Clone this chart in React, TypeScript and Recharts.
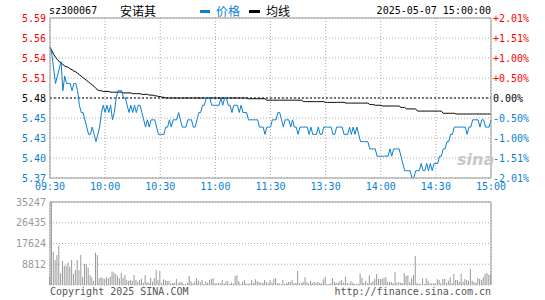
import React from 'react';
import { ComposedChart, Line, BarChart, Bar, XAxis, YAxis, CartesianGrid, ReferenceLine } from 'recharts';

// minute-by-minute price, 09:30 .. 11:30 + 13:01 .. 15:00 (241 points)
const price = [
  5.55, 5.54, 5.52, 5.50, 5.51, 5.52, 5.53, 5.49, 5.51, 5.50,
  5.50, 5.50, 5.49, 5.50, 5.50, 5.49, 5.47, 5.46, 5.46, 5.45,
  5.44, 5.43, 5.43, 5.44, 5.43, 5.42, 5.43, 5.44, 5.46, 5.47,
  5.46, 5.47, 5.46, 5.47, 5.45, 5.46, 5.48, 5.49, 5.49, 5.49,
  5.48, 5.48, 5.47, 5.46, 5.47, 5.46, 5.47, 5.46, 5.47, 5.47,
  5.46, 5.45, 5.44, 5.45, 5.44, 5.45, 5.45, 5.45, 5.44, 5.43,
  5.43, 5.43, 5.43, 5.44, 5.44, 5.45, 5.44, 5.45, 5.45, 5.45,
  5.46, 5.45, 5.44, 5.44, 5.44, 5.45, 5.45, 5.45, 5.44, 5.44,
  5.45, 5.46, 5.46, 5.47, 5.47, 5.48, 5.48, 5.48, 5.47, 5.47,
  5.47, 5.47, 5.47, 5.48, 5.47, 5.48, 5.48, 5.47, 5.47, 5.46,
  5.47, 5.47, 5.47, 5.46, 5.47, 5.46, 5.46, 5.46, 5.45, 5.45,
  5.45, 5.45, 5.45, 5.45, 5.44, 5.44, 5.44, 5.43, 5.44, 5.44,
  5.44, 5.45, 5.45, 5.45, 5.46, 5.46, 5.45, 5.44, 5.45, 5.45,
  5.45, 5.44, 5.45, 5.44, 5.44, 5.43, 5.44, 5.44, 5.44, 5.44,
  5.44, 5.43, 5.44, 5.43, 5.43, 5.43, 5.44, 5.43, 5.43, 5.44,
  5.44, 5.44, 5.44, 5.44, 5.43, 5.43, 5.44, 5.44, 5.44, 5.44,
  5.43, 5.43, 5.43, 5.44, 5.43, 5.44, 5.43, 5.44, 5.43, 5.42,
  5.42, 5.42, 5.42, 5.42, 5.41, 5.41, 5.41, 5.41, 5.40, 5.40,
  5.40, 5.40, 5.40, 5.40, 5.40, 5.41, 5.40, 5.41, 5.41, 5.41,
  5.41, 5.40, 5.39, 5.38, 5.38, 5.38, 5.38, 5.37, 5.37, 5.38,
  5.38, 5.38, 5.39, 5.38, 5.38, 5.39, 5.38, 5.39, 5.38, 5.39,
  5.39, 5.39, 5.40, 5.40, 5.41, 5.41, 5.42, 5.42, 5.43, 5.43,
  5.44, 5.44, 5.44, 5.44, 5.44, 5.44, 5.44, 5.43, 5.44, 5.44,
  5.45, 5.45, 5.45, 5.45, 5.44, 5.45, 5.45, 5.44, 5.44, 5.44, 5.45,
];

const avgPrice = [
  5.550, 5.545, 5.540, 5.536, 5.533, 5.530, 5.528, 5.526, 5.524, 5.523,
  5.522, 5.520, 5.519, 5.517, 5.516, 5.514, 5.512, 5.510, 5.508, 5.506,
  5.504, 5.502, 5.500, 5.498, 5.496, 5.493, 5.491, 5.490, 5.490, 5.489,
  5.489, 5.489, 5.489, 5.488, 5.488, 5.488, 5.488, 5.488, 5.488, 5.488,
  5.487, 5.487, 5.487, 5.487, 5.487, 5.486, 5.486, 5.486, 5.486, 5.486,
  5.485, 5.485, 5.485, 5.485, 5.484, 5.484, 5.484, 5.483, 5.483, 5.482,
  5.482, 5.481, 5.481, 5.480, 5.480, 5.480, 5.480, 5.480, 5.480, 5.480,
  5.480, 5.480, 5.480, 5.480, 5.480, 5.480, 5.480, 5.480, 5.480, 5.480,
  5.480, 5.480, 5.480, 5.480, 5.480, 5.480, 5.480, 5.480, 5.480, 5.480,
  5.480, 5.480, 5.480, 5.480, 5.480, 5.480, 5.480, 5.480, 5.480, 5.480,
  5.480, 5.480, 5.480, 5.480, 5.480, 5.480, 5.480, 5.480, 5.479, 5.479,
  5.479, 5.479, 5.479, 5.479, 5.479, 5.479, 5.479, 5.479, 5.477, 5.477,
  5.477, 5.477, 5.477, 5.477, 5.477, 5.477, 5.477, 5.477, 5.477, 5.477,
  5.477, 5.477, 5.477, 5.477, 5.477, 5.477, 5.477, 5.477, 5.475, 5.475,
  5.475, 5.475, 5.475, 5.475, 5.475, 5.475, 5.475, 5.475, 5.475, 5.475,
  5.474, 5.474, 5.474, 5.474, 5.474, 5.474, 5.474, 5.474, 5.474, 5.474,
  5.474, 5.473, 5.473, 5.473, 5.473, 5.473, 5.473, 5.473, 5.473, 5.473,
  5.473, 5.473, 5.473, 5.473, 5.471, 5.471, 5.471, 5.470, 5.470, 5.470,
  5.470, 5.469, 5.469, 5.469, 5.469, 5.469, 5.469, 5.469, 5.469, 5.469,
  5.469, 5.467, 5.467, 5.467, 5.465, 5.465, 5.465, 5.465, 5.465, 5.465,
  5.462, 5.462, 5.462, 5.462, 5.462, 5.462, 5.462, 5.462, 5.462, 5.462,
  5.462, 5.462, 5.462, 5.462, 5.459, 5.459, 5.459, 5.459, 5.459, 5.459,
  5.459, 5.458, 5.458, 5.458, 5.458, 5.458, 5.458, 5.458, 5.458, 5.458,
  5.458, 5.458, 5.458, 5.458, 5.458, 5.458, 5.458, 5.458, 5.458, 5.458, 5.458,
];

const volume = [
  3600, 35247, 14100, 10575, 12690, 16640, 5000, 10150, 8180, 8180,
  9450, 7755, 10575, 4650, 6345, 10575, 6345, 12690, 3525, 8880,
  8740, 7330, 4230, 3240, 1830, 13680, 12690, 2820, 3240, 2820,
  2540, 3240, 2820, 3525, 5640, 5360, 4650, 3800, 2820, 5220,
  3100, 4230, 2115, 1830, 2115, 1830, 4230, 2115, 1270, 2115,
  2680, 990, 4230, 1410, 990, 2960, 1410, 2820, 6345, 2115,
  5920, 990, 2400, 2115, 1690, 1690, 705, 850, 850, 2540,
  705, 1270, 1270, 420, 420, 990, 3800, 1550, 705, 1550,
  2820, 1830, 1270, 2115, 420, 1550, 990, 2115, 2540, 2820,
  705, 705, 990, 705, 2115, 705, 1550, 1550, 420, 990,
  705, 3800, 4090, 1550, 420, 1270, 2115, 705, 420, 705,
  2115, 990, 2400, 1550, 1270, 990, 990, 2115, 1270, 705,
  2115, 990, 2540, 2820, 705, 705, 420, 2115, 420, 990,
  1270, 1270, 2115, 705, 990, 5920, 705, 990, 1270, 3240,
  1270, 705, 1690, 990, 1270, 990, 1270, 990, 705, 2400,
  3525, 420, 420, 705, 2820, 1270, 990, 990, 1690, 2115,
  990, 3525, 990, 705, 1690, 990, 420, 420, 560, 4935,
  3100, 990, 1830, 705, 4090, 990, 1550, 2680, 4650, 2540,
  2540, 2680, 2960, 3240, 1410, 1270, 1270, 705, 5500, 990,
  1270, 990, 705, 5075, 3800, 4090, 1130, 2820, 4090, 12270,
  705, 560, 420, 2820, 420, 2820, 1830, 705, 705, 705,
  705, 2400, 2115, 705, 2540, 2540, 990, 1830, 3240, 705,
  4650, 2115, 2115, 1410, 4650, 1270, 2540, 2115, 1830, 6770,
  1830, 1270, 990, 3100, 2540, 2115, 3240, 4650, 5075, 4230, 4500,
];

const timeTicks = [0, 30, 60, 90, 120, 150, 180, 210, 240];
const timeLabels = ['09:30', '10:00', '10:30', '11:00', '11:30', '13:30', '14:00', '14:30', '15:00'];
const priceTicks = [5.37, 5.3975, 5.425, 5.4525, 5.48, 5.5075, 5.535, 5.5625, 5.59];
const priceLabels = ['5.37', '5.40', '5.43', '5.45', '5.48', '5.51', '5.54', '5.56', '5.59'];
const pctLabels = ['-2.01%', '-1.51%', '-1.00%', '-0.50%', '0.00%', '+0.50%', '+1.00%', '+1.51%', '+2.01%'];
const volTicks = [0, 8812, 17624, 26435, 35247];
const prevClose = 5.48;

const rows = price.map((p, i) => ({ i, price: p, avg: avgPrice[i], vol: volume[i] }));

const MONO = '"DejaVu Sans Mono", "Liberation Mono", monospace';
const CJK = '"Noto Sans CJK SC", sans-serif';
const BLUE = '#0a7fd0';
const RED = '#ff0000';
const GRID = '#aaaaaa';
const BORDER = '#999999';

const levelColor = (idx: number) => (idx < 4 ? BLUE : idx === 4 ? '#000' : RED);

const TimeTick = (props: any) => {
  const idx = timeTicks.indexOf(props.payload.value);
  return (
    <text x={props.x} y={props.y + 12} textAnchor="middle" fontFamily={MONO} fontSize={10} fill={BLUE}>
      {timeLabels[idx]}
    </text>
  );
};

const PriceTick = (props: any) => {
  const idx = priceTicks.indexOf(props.payload.value);
  return (
    <text x={props.x - 4} y={props.y} dy="0.35em" textAnchor="end" fontFamily={MONO} fontSize={10} fill={levelColor(idx)}>
      {priceLabels[idx]}
    </text>
  );
};

const PctTick = (props: any) => {
  const idx = priceTicks.indexOf(props.payload.value);
  return (
    <text x={props.x + 2} y={props.y} dy="0.35em" textAnchor="start" fontFamily={MONO} fontSize={10} fill={levelColor(idx)}>
      {pctLabels[idx]}
    </text>
  );
};

const VolTick = (props: any) => {
  if (props.payload.value === 0) return null;
  return (
    <text x={props.x - 4} y={props.y} dy="0.35em" textAnchor="end" fontFamily={MONO} fontSize={10} fill="#999">
      {props.payload.value}
    </text>
  );
};

const label = (extra: React.CSSProperties): React.CSSProperties => ({
  position: 'absolute', fontFamily: MONO, fontSize: 10, lineHeight: '12px', whiteSpace: 'nowrap', ...extra,
});

export default function App() {
  return (
    <div style={{ position: 'absolute', left: 0, top: 0, width: 545, height: 300, background: '#fff', overflow: 'hidden' }}>
      {/* header */}
      <div style={label({ left: 49, top: 5, color: '#000' })}>sz300067</div>
      <div style={label({ left: 120, top: 4, fontFamily: CJK, fontSize: 12, lineHeight: '14px', color: '#000' })}>安诺其</div>
      <div style={{ position: 'absolute', left: 200, top: 10, width: 10, height: 3, background: BLUE }} />
      <div style={label({ left: 216, top: 4, fontFamily: CJK, fontSize: 12, lineHeight: '14px', color: BLUE })}>价格</div>
      <div style={{ position: 'absolute', left: 249, top: 10, width: 11, height: 3, background: '#000' }} />
      <div style={label({ left: 266, top: 4, fontFamily: CJK, fontSize: 12, lineHeight: '14px', color: '#000' })}>均线</div>
      <div style={label({ right: 54, top: 5, color: '#000' })}>2025-05-07 15:00:00</div>

      <div style={{ position: 'absolute', left: 0, top: 0 }}>
        <ComposedChart width={545} height={192} data={rows} margin={{ top: 18, right: 0, bottom: 0, left: 0 }}>
          <CartesianGrid yAxisId="l" stroke={GRID} strokeDasharray="1 2" />
          <XAxis dataKey="i" type="number" domain={[0, 240]} ticks={timeTicks} interval={0} height={14}
            tickSize={0} tickMargin={0} tickLine={false} axisLine={{ stroke: BORDER }} tick={(p: any) => <TimeTick {...p} />} />
          <YAxis yAxisId="l" domain={[5.37, 5.59]} ticks={priceTicks} interval={0} width={50} allowDataOverflow
            tickSize={0} tickMargin={0} tickLine={false} axisLine={{ stroke: BORDER }} tick={(p: any) => <PriceTick {...p} />} />
          <YAxis yAxisId="r" orientation="right" domain={[5.37, 5.59]} ticks={priceTicks} interval={0} width={54} allowDataOverflow
            tickSize={0} tickMargin={0} tickLine={false} axisLine={{ stroke: BORDER }} tick={(p: any) => <PctTick {...p} />} />
          <ReferenceLine yAxisId="l" y={5.59} stroke={BORDER} />
          <ReferenceLine yAxisId="l" y={prevClose} stroke="#000" strokeDasharray="2 2" />
          <Line yAxisId="l" type="linear" dataKey="avg" stroke="#000" strokeWidth={1} dot={false} isAnimationActive={false} />
          <Line yAxisId="l" type="linear" dataKey="price" stroke={BLUE} strokeWidth={1} dot={false} isAnimationActive={false} />
        </ComposedChart>
      </div>

      <div style={label({ left: 457, top: 150, fontFamily: '"DejaVu Sans", sans-serif', fontSize: 16, fontWeight: 'bold', fontStyle: 'italic', color: '#c8c8c8', lineHeight: '20px' })}>sina</div>

      <div style={{ position: 'absolute', left: 0, top: 196 }}>
        <BarChart width={545} height={104} data={rows} margin={{ top: 6, right: 54, bottom: 15, left: 0 }}>
          <CartesianGrid stroke={GRID} strokeDasharray="1 2" />
          <XAxis dataKey="i" type="number" domain={[0, 240]} ticks={timeTicks} interval={0} height={0}
            tick={false} tickLine={false} axisLine={{ stroke: BORDER }} />
          <YAxis domain={[0, 35247]} ticks={volTicks} interval={0} width={50} allowDataOverflow
            tickSize={0} tickMargin={0} tickLine={false} axisLine={{ stroke: BORDER }} tick={(p: any) => <VolTick {...p} />} />
          <ReferenceLine y={35247} stroke={BORDER} />
          <ReferenceLine x={240} stroke={BORDER} />
          <Bar dataKey="vol" fill="#999" barSize={1} isAnimationActive={false} />
        </BarChart>
      </div>

      <div style={label({ left: 50, top: 286, color: '#555' })}>Copyright 2025 SINA.COM</div>
      <div style={label({ right: 54, top: 286, color: '#555' })}>http://finance.sina.com.cn</div>
    </div>
  );
}
